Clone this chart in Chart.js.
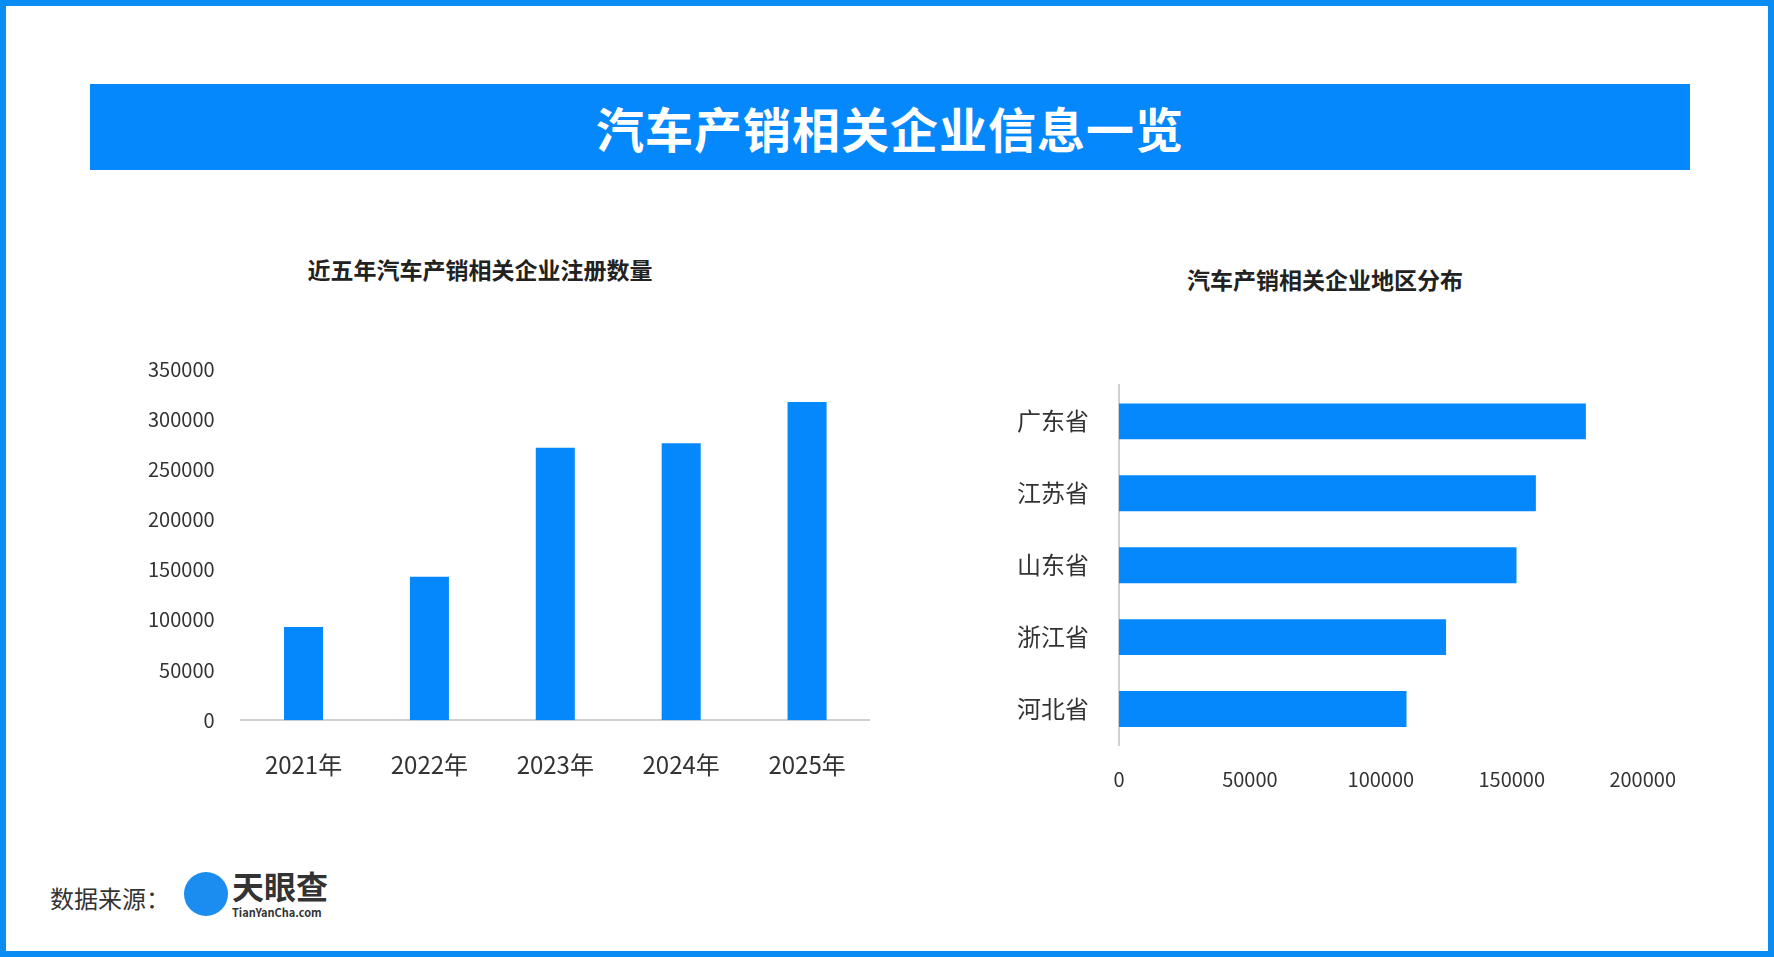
<!DOCTYPE html>
<html><head><meta charset="utf-8">
<script src="https://cdn.jsdelivr.net/npm/chart.js@4"></script>
<style>
body{margin:0;width:1774px;height:957px;overflow:hidden;background:#fff;font-family:"Noto Sans CJK SC",sans-serif}
#frame{position:absolute;left:0;top:0;width:1774px;height:957px;box-sizing:border-box;border:6px solid #0a8cf5}
.abs{position:absolute}
#banner{left:90px;top:84px;width:1600px;height:86px;background:#0488fc;color:#fff;font-size:48px;font-weight:bold;text-align:center;line-height:86px;letter-spacing:1px}
.ct{font-size:23px;font-weight:bold;color:#222;text-align:center}
</style></head><body>
<div id="frame"></div>
<div id="banner" class="abs">汽车产销相关企业信息一览</div>
<div class="abs ct" style="left:180px;top:252px;width:600px">近五年汽车产销相关企业注册数量</div>
<div class="abs ct" style="left:1025px;top:262px;width:600px">汽车产销相关企业地区分布</div>
<div class="abs" style="left:130px;top:339px;width:740px;height:462px"><canvas id="c1"></canvas></div>
<div class="abs" style="left:995px;top:349px;width:695px;height:456px"><canvas id="c2"></canvas></div>
<div class="abs" style="left:50px;top:880px;font-size:24px;color:#333">数据来源：</div>
<div class="abs" style="left:184px;top:872px;width:44px;height:44px;border-radius:50%;background:#1b8df0"></div>
<div class="abs" style="left:232px;top:866px;font-size:32px;font-weight:bold;color:#333;line-height:38px">天眼查</div>
<div class="abs" style="left:232px;top:904px;font-size:11px;font-weight:bold;color:#333">TianYanCha.com</div>
<script>
const years=["2021年","2022年","2023年","2024年","2025年"];
const yearValues=[93000,143000,271500,276000,317000];
const provinces=["广东省","江苏省","山东省","浙江省","河北省"];
const provinceValues=[178300,159200,151800,124900,109800];
const blue="#0488fc";
const plain=v=>String(v);
Chart.defaults.font.family='"Noto Sans CJK SC",sans-serif';
Chart.defaults.color="#333";
new Chart(document.getElementById("c1"),{type:"bar",
data:{labels:years,datasets:[{data:yearValues,backgroundColor:blue,categoryPercentage:1,barPercentage:0.31}]},
options:{responsive:true,maintainAspectRatio:false,animation:false,plugins:{legend:{display:false},tooltip:{enabled:false}},
scales:{y:{min:0,max:350000,ticks:{stepSize:50000,font:{size:20},padding:18,callback:plain},grid:{display:false},border:{display:false}},
x:{ticks:{font:{size:24},padding:22},grid:{display:false},border:{color:"#d0d0d0",width:2}}}}});
new Chart(document.getElementById("c2"),{type:"bar",
data:{labels:provinces,datasets:[{data:provinceValues,backgroundColor:blue,categoryPercentage:1,barPercentage:0.5}]},
options:{indexAxis:"y",responsive:true,maintainAspectRatio:false,animation:false,plugins:{legend:{display:false},tooltip:{enabled:false}},
scales:{x:{min:0,max:200000,ticks:{stepSize:50000,font:{size:20},padding:14,callback:plain},grid:{display:false},border:{display:false}},
y:{ticks:{font:{size:24},padding:22},grid:{display:false},border:{color:"#d0d0d0",width:2}}}}});
</script></body></html>
